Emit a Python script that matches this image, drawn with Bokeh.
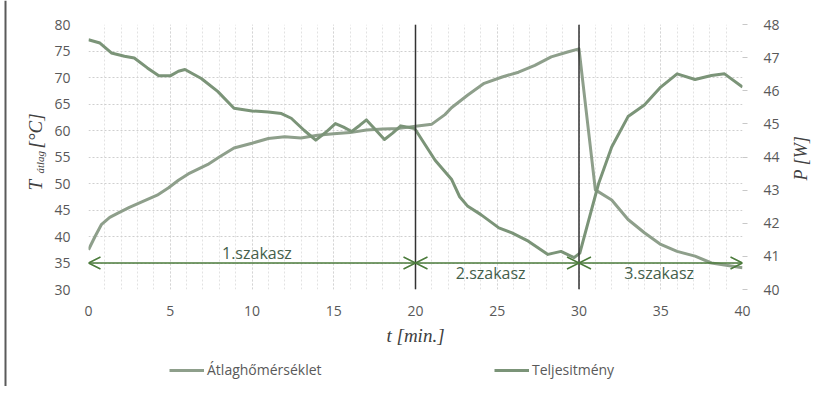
import math
from bokeh.plotting import figure
from bokeh.layouts import row, column
from bokeh.models import (Range1d, LinearAxis, SingleIntervalTicker, Span, Arrow, OpenHead,
                          ColumnDataSource, Label, Legend, LegendItem)
from bokeh.embed import file_html
from bokeh.resources import INLINE

# ---- data ----
t_temp = [0, 0.4, 0.8, 1.3, 1.8, 2.5, 3.4, 4.2, 4.9, 5.5, 6.1, 7.3, 8.0, 8.9, 10, 11, 12, 13, 14, 15,
          16, 17, 18, 19, 20, 21, 21.8, 22.2, 23.2, 24.2, 25.3, 26.3, 27.3, 28.3, 29.3, 30, 31, 32,
          33, 34, 35, 36, 37.1, 38.1, 40]
temp_c = [37.5, 40.0, 42.3, 43.6, 44.4, 45.5, 46.7, 47.8, 49.2, 50.6, 51.8, 53.6, 55.0, 56.7, 57.6,
          58.5, 58.8, 58.6, 59.1, 59.4, 59.6, 60.1, 60.3, 60.4, 60.8, 61.2, 63.0, 64.3, 66.7, 68.9,
          70.1, 71.0, 72.3, 73.9, 74.8, 75.4, 48.8, 46.9, 43.2, 40.7, 38.5, 37.2, 36.3, 35.0, 34.1]

t_power = [0, 0.7, 1.4, 2.2, 2.8, 3.6, 4.3, 5.0, 5.5, 5.9, 6.9, 7.9, 8.9, 10.0, 11.0, 11.8, 12.4,
           13.2, 13.9, 14.5, 15.1, 15.6, 16.1, 16.6, 17.0, 17.5, 18.1, 18.6, 19.1, 19.95, 21.2,
           22.2, 22.7, 23.2, 24.0, 25.1, 25.9, 26.9, 28.1, 28.9, 29.7, 30.05, 31.2, 32.0, 33.0,
           34.0, 35.0, 36.0, 37.1, 38.1, 38.9, 40.0]
power_w = [47.54, 47.44, 47.14, 47.04, 46.99, 46.69, 46.45, 46.45, 46.59, 46.64, 46.37, 45.98,
           45.47, 45.39, 45.36, 45.31, 45.17, 44.80, 44.51, 44.74, 45.01, 44.90, 44.77, 44.96,
           45.12, 44.85, 44.53, 44.72, 44.94, 44.86, 43.90, 43.33, 42.80, 42.51, 42.26, 41.86,
           41.71, 41.46, 41.06, 41.15, 40.96, 41.10, 43.20, 44.30, 45.22, 45.57, 46.11, 46.51,
           46.34, 46.46, 46.51, 46.11]

section_start = [0, 20, 30]
section_end = [20, 30, 40]
section_labels = ["1.szakasz", "2.szakasz", "3.szakasz"]
section_label_x = [10.3, 24.6, 34.9]
section_label_y = [36.9, 33.2, 33.2]
arrow_level = 35
dividers = [20, 30]

series_names = ["Átlaghőmérséklet", "Teljesitmény"]

H = 386
LEFT_W, RIGHT_W = 50, 36
FRAME_W, FRAME_H = 654, 266
P_BL, P_BR, P_BT, P_BB = 38, 43, 24, 58
P_W = P_BL + FRAME_W + P_BR
P_H = P_BT + FRAME_H + P_BB
LEG_H = H - P_H
serif = "Liberation Serif"
title_color = "#404040"
temp_color = "#8e9f8b"
pow_color = "#7b9478"


def strip(w, h):
    f = figure(width=w, height=h, output_backend="svg", toolbar_location=None,
               x_range=Range1d(0, w), y_range=Range1d(0, h), min_border=0)
    f.axis.visible = False
    f.grid.visible = False
    f.outline_line_color = None
    return f


# ---- left title strip (T_átlag [°C]) + outer frame edge ----
lf = strip(LEFT_W, H)
lf.add_layout(Span(location=5, dimension="height", line_color="#5a5a5a", line_width=2))
for px, py, txt, fs in [(35, 190, "T", "19px"), (39, 173, "átlag", "11px"), (35, 148, "[°C]", "19px")]:
    lf.add_layout(Label(x=px, y=H - py, text=txt, angle=math.pi / 2, text_align="left",
                        text_baseline="middle", text_font=serif, text_font_style="italic",
                        text_font_size=fs, text_color=title_color))

# ---- right title strip (P [W]) ----
rf = strip(RIGHT_W, H)
rf.add_layout(Label(x=15, y=H - 180, text="P [W]", angle=math.pi / 2, text_align="left",
                    text_baseline="middle", text_font=serif, text_font_style="italic",
                    text_font_size="18px", text_color=title_color))

# ---- main figure ----
p = figure(width=P_W, height=P_H, output_backend="svg", toolbar_location=None,
           x_range=Range1d(0, 40), y_range=Range1d(30, 80),
           min_border_left=P_BL, min_border_right=P_BR, min_border_top=P_BT,
           min_border_bottom=P_BB)
p.extra_y_ranges = {"pw": Range1d(40, 48)}
p.outline_line_color = None

tick_font = "Open Sans"
tick_color = "#595959"

p.xaxis.ticker = SingleIntervalTicker(interval=5, num_minor_ticks=5)
p.xaxis.axis_line_color = None
p.xaxis.major_tick_line_color = None
p.xaxis.minor_tick_line_color = None
p.xaxis.major_label_standoff = 10
p.xaxis.major_label_text_font = tick_font
p.xaxis.major_label_text_font_size = "14px"
p.xaxis.major_label_text_color = tick_color
p.xaxis.axis_label = "t [min.]"
p.xaxis.axis_label_text_font = serif
p.xaxis.axis_label_text_font_style = "italic"
p.xaxis.axis_label_text_font_size = "19px"
p.xaxis.axis_label_text_color = title_color
p.xaxis.axis_label_standoff = 6

p.yaxis.ticker = SingleIntervalTicker(interval=5, num_minor_ticks=0)
p.yaxis.axis_line_color = None
p.yaxis.major_tick_line_color = None
p.yaxis.minor_tick_line_color = None
p.yaxis.major_label_standoff = 12
p.yaxis.major_label_text_font = tick_font
p.yaxis.major_label_text_font_size = "14px"
p.yaxis.major_label_text_color = tick_color

ra = LinearAxis(y_range_name="pw", ticker=SingleIntervalTicker(interval=1, num_minor_ticks=0))
ra.axis_line_color = None
ra.major_tick_line_color = "#c8c8c8"
ra.major_tick_out = 5
ra.major_tick_in = 0
ra.minor_tick_line_color = None
ra.major_label_standoff = 16
ra.major_label_text_font = tick_font
ra.major_label_text_font_size = "14px"
ra.major_label_text_color = tick_color
p.add_layout(ra, "right")

p.xgrid.grid_line_color = "#d4d4d4"
p.xgrid.grid_line_dash = "2 2"
p.xgrid.minor_grid_line_color = "#e2e2e2"
p.xgrid.minor_grid_line_dash = "2 2"
p.ygrid.grid_line_color = "#cfcfcf"
p.ygrid.grid_line_dash = "2 2"

p.line(t_temp, temp_c, line_color=temp_color, line_width=3, line_join="round")
p.line(t_power, power_w, y_range_name="pw", line_color=pow_color, line_width=3, line_join="round")

for d in dividers:
    p.add_layout(Span(location=d, dimension="height", line_color="#333333", line_width=1.5))

arr_src = ColumnDataSource(dict(x0=section_start, x1=section_end, y=[arrow_level] * len(section_start)))
p.add_layout(Arrow(start=OpenHead(size=12, line_color="#4b7b3b", line_width=1.5),
                   end=OpenHead(size=12, line_color="#4b7b3b", line_width=1.5),
                   x_start="x0", y_start="y", x_end="x1", y_end="y", source=arr_src,
                   line_color="#4b7b3b", line_width=1.5))
for lx, ly, lt in zip(section_label_x, section_label_y, section_labels):
    p.add_layout(Label(x=lx, y=ly, text=lt, text_align="center", text_baseline="middle",
                       text_font="Open Sans", text_font_size="16px", text_color="#455f4c"))

# ---- legend strip below the chart (series drawn out of view, legend shows their style) ----
bf = figure(width=P_W, height=LEG_H, output_backend="svg", toolbar_location=None,
            x_range=Range1d(0, 40), y_range=Range1d(-20, -10), min_border=0)
bf.axis.visible = False
bf.grid.visible = False
bf.outline_line_color = None
lt_temp = bf.line(t_temp, temp_c, line_color=temp_color, line_width=3)
lt_pow = bf.line(t_power, power_w, line_color=pow_color, line_width=3)
legend = Legend(items=[LegendItem(label=series_names[0], renderers=[lt_temp]),
                       LegendItem(label=series_names[1], renderers=[lt_pow])],
                orientation="horizontal", location=(81, 7), padding=0, margin=0,
                spacing=163, glyph_width=35, glyph_height=18, label_standoff=3, label_width=124,
                label_text_font="Open Sans", label_text_font_size="14px",
                label_text_color="#595959", border_line_color=None, background_fill_alpha=0)
bf.add_layout(legend, "center")

layout = row(lf, column(p, bf, spacing=0), rf, spacing=0)
open("out.html", "w").write(file_html(layout, INLINE))
